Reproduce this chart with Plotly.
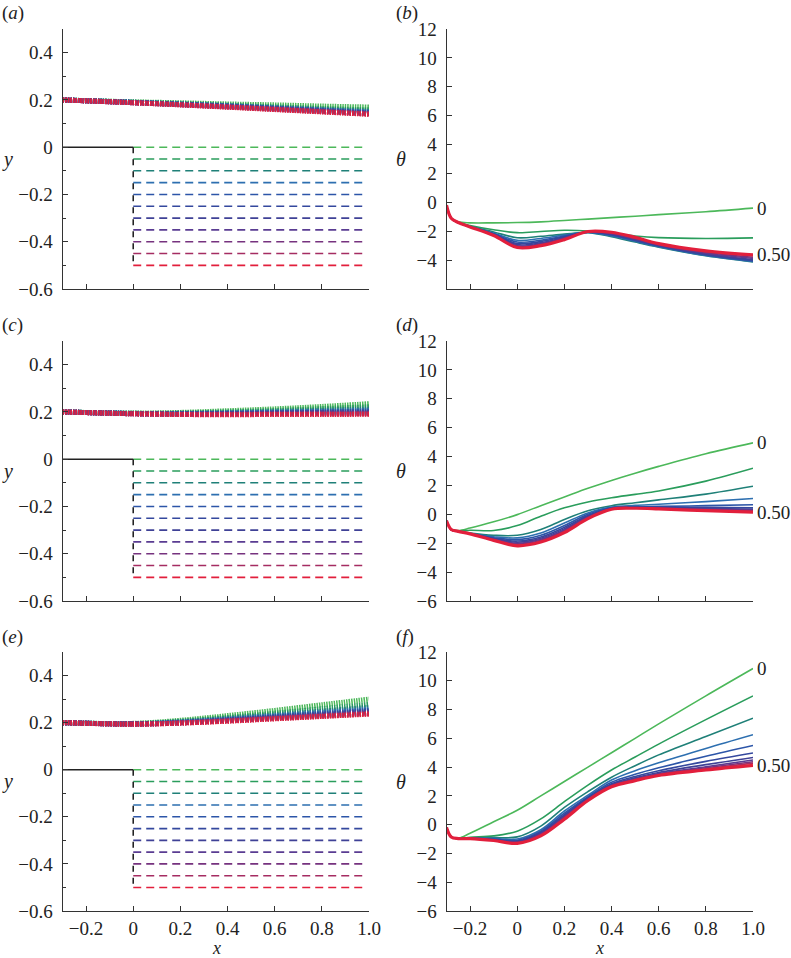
import plotly.graph_objects as go

# ---------------- data ----------------
params = ["0", "0.05", "0.10", "0.15", "0.20", "0.25", "0.30", "0.35", "0.40", "0.45", "0.50"]
colors = ["#4cb85a", "#2a9d5c", "#1f8078", "#2d6fb0", "#2c55a8", "#34489e", "#3f4196",
          "#5a3c92", "#76327f", "#a52c62", "#e21f3c"]

# dashed levels in the y panels
dash_levels = [0.0, -0.05, -0.10, -0.15, -0.20, -0.25, -0.30, -0.35, -0.40, -0.45, -0.50]
wall_x = [-0.3, 0.0]
wall_y = [0.0, 0.0]
dash_x = [0.0, 0.98]
step_x = [0.0, 0.0]
step_y = [0.0, -0.5]

# wavy free-surface curves (centre line), panels a, c, e
wave_x = [-0.3, 0.0, 0.2, 0.4, 0.6, 0.8, 1.0]
wave_a = [
    [0.200, 0.192, 0.188, 0.183, 0.179, 0.174, 0.170],
    [0.200, 0.191, 0.185, 0.178, 0.171, 0.164, 0.158],
    [0.200, 0.190, 0.183, 0.176, 0.168, 0.160, 0.152],
    [0.200, 0.190, 0.182, 0.175, 0.166, 0.158, 0.149],
    [0.200, 0.189, 0.182, 0.174, 0.165, 0.156, 0.147],
    [0.200, 0.189, 0.181, 0.173, 0.164, 0.155, 0.145],
    [0.200, 0.189, 0.181, 0.172, 0.163, 0.153, 0.143],
    [0.200, 0.188, 0.180, 0.171, 0.162, 0.152, 0.142],
    [0.200, 0.188, 0.180, 0.171, 0.161, 0.151, 0.141],
    [0.200, 0.188, 0.179, 0.170, 0.160, 0.150, 0.140],
    [0.200, 0.188, 0.179, 0.169, 0.159, 0.149, 0.139],
]
wave_c = [
    [0.200, 0.195, 0.198, 0.205, 0.213, 0.223, 0.235],
    [0.200, 0.194, 0.195, 0.200, 0.206, 0.214, 0.222],
    [0.200, 0.194, 0.194, 0.197, 0.202, 0.207, 0.213],
    [0.200, 0.193, 0.193, 0.195, 0.199, 0.203, 0.207],
    [0.200, 0.193, 0.192, 0.194, 0.197, 0.200, 0.203],
    [0.200, 0.193, 0.191, 0.193, 0.195, 0.198, 0.200],
    [0.200, 0.193, 0.191, 0.192, 0.194, 0.196, 0.197],
    [0.200, 0.192, 0.190, 0.191, 0.193, 0.194, 0.195],
    [0.200, 0.192, 0.190, 0.190, 0.191, 0.192, 0.193],
    [0.200, 0.192, 0.189, 0.189, 0.190, 0.191, 0.191],
    [0.200, 0.192, 0.189, 0.188, 0.189, 0.189, 0.190],
]
wave_e = [
    [0.200, 0.197, 0.210, 0.230, 0.252, 0.276, 0.300],
    [0.200, 0.196, 0.206, 0.222, 0.240, 0.259, 0.278],
    [0.200, 0.195, 0.204, 0.218, 0.233, 0.249, 0.265],
    [0.200, 0.195, 0.202, 0.215, 0.229, 0.243, 0.257],
    [0.200, 0.195, 0.201, 0.213, 0.226, 0.239, 0.252],
    [0.200, 0.194, 0.200, 0.211, 0.223, 0.236, 0.248],
    [0.200, 0.194, 0.200, 0.210, 0.221, 0.233, 0.245],
    [0.200, 0.194, 0.199, 0.209, 0.220, 0.231, 0.242],
    [0.200, 0.194, 0.199, 0.208, 0.219, 0.229, 0.240],
    [0.200, 0.194, 0.198, 0.207, 0.217, 0.227, 0.238],
    [0.200, 0.193, 0.198, 0.206, 0.216, 0.226, 0.236],
]

# theta curves, panels b, d, f
theta_x = [-0.3, -0.28, -0.25, -0.2, -0.1, 0.0, 0.1, 0.2, 0.3, 0.4, 0.5, 0.6, 0.8, 1.0]
theta_b = [
    [-0.2, -1.1, -1.35, -1.42, -1.42, -1.40, -1.35, -1.26, -1.16, -1.06, -0.96, -0.85, -0.65, -0.40],
    [-0.2, -1.1, -1.40, -1.60, -1.90, -2.10, -2.02, -1.93, -1.98, -2.15, -2.33, -2.44, -2.50, -2.46],
    [-0.2, -1.1, -1.40, -1.65, -2.05, -2.45, -2.35, -2.20, -2.10, -2.38, -2.75, -3.10, -3.70, -4.12],
    [-0.2, -1.1, -1.40, -1.67, -2.12, -2.63, -2.50, -2.27, -2.08, -2.33, -2.70, -3.07, -3.68, -4.10],
    [-0.2, -1.1, -1.40, -1.68, -2.17, -2.75, -2.62, -2.33, -2.07, -2.28, -2.66, -3.04, -3.65, -4.06],
    [-0.2, -1.1, -1.40, -1.69, -2.20, -2.85, -2.72, -2.38, -2.06, -2.24, -2.62, -3.01, -3.62, -4.02],
    [-0.2, -1.1, -1.40, -1.70, -2.23, -2.93, -2.80, -2.43, -2.05, -2.20, -2.58, -2.98, -3.58, -3.96],
    [-0.2, -1.1, -1.40, -1.70, -2.25, -3.00, -2.86, -2.47, -2.04, -2.17, -2.54, -2.95, -3.53, -3.88],
    [-0.2, -1.1, -1.40, -1.70, -2.27, -3.05, -2.92, -2.51, -2.03, -2.13, -2.50, -2.92, -3.47, -3.80],
    [-0.2, -1.1, -1.40, -1.70, -2.29, -3.10, -2.97, -2.55, -2.02, -2.10, -2.46, -2.89, -3.42, -3.71],
    [-0.2, -1.1, -1.40, -1.70, -2.30, -3.13, -3.00, -2.58, -2.02, -2.07, -2.42, -2.86, -3.36, -3.63],
]
theta_d = [
    [-0.45, -1.05, -1.12, -0.95, -0.52, -0.02, 0.60, 1.20, 1.80, 2.35, 2.85, 3.32, 4.20, 4.95],
    [-0.45, -1.05, -1.15, -1.10, -1.12, -0.78, -0.13, 0.45, 0.86, 1.15, 1.38, 1.62, 2.30, 3.19],
    [-0.45, -1.05, -1.18, -1.30, -1.45, -1.45, -1.05, -0.35, 0.25, 0.60, 0.80, 1.00, 1.40, 1.94],
    [-0.45, -1.05, -1.18, -1.32, -1.55, -1.63, -1.30, -0.60, 0.10, 0.50, 0.62, 0.70, 0.88, 1.10],
    [-0.45, -1.05, -1.18, -1.33, -1.62, -1.75, -1.45, -0.78, 0.00, 0.45, 0.52, 0.55, 0.60, 0.66],
    [-0.45, -1.05, -1.18, -1.33, -1.67, -1.85, -1.57, -0.90, -0.08, 0.42, 0.48, 0.50, 0.48, 0.45],
    [-0.45, -1.05, -1.18, -1.34, -1.70, -1.93, -1.66, -1.00, -0.14, 0.40, 0.46, 0.46, 0.41, 0.35],
    [-0.45, -1.05, -1.18, -1.34, -1.73, -2.00, -1.73, -1.08, -0.19, 0.38, 0.45, 0.44, 0.36, 0.30],
    [-0.45, -1.05, -1.18, -1.35, -1.76, -2.06, -1.80, -1.15, -0.23, 0.37, 0.44, 0.42, 0.32, 0.25],
    [-0.45, -1.05, -1.18, -1.35, -1.78, -2.12, -1.86, -1.21, -0.27, 0.36, 0.43, 0.40, 0.28, 0.20],
    [-0.45, -1.05, -1.18, -1.35, -1.80, -2.18, -1.92, -1.27, -0.30, 0.35, 0.42, 0.38, 0.25, 0.15],
]
theta_f = [
    [-0.2, -0.85, -0.95, -0.60, 0.20, 1.00, 2.00, 3.00, 4.00, 5.00, 6.00, 7.00, 8.95, 10.85],
    [-0.2, -0.85, -0.97, -0.88, -0.78, -0.45, 0.40, 1.60, 2.75, 3.80, 4.70, 5.60, 7.30, 8.95],
    [-0.2, -0.85, -0.97, -0.93, -0.90, -0.85, -0.10, 1.20, 2.30, 3.30, 4.10, 4.85, 6.13, 7.40],
    [-0.2, -0.85, -0.97, -0.94, -0.95, -1.00, -0.35, 0.95, 2.05, 3.10, 3.75, 4.30, 5.30, 6.25],
    [-0.2, -0.85, -0.97, -0.95, -1.00, -1.08, -0.45, 0.80, 1.95, 2.95, 3.50, 3.95, 4.75, 5.50],
    [-0.2, -0.85, -0.97, -0.95, -1.03, -1.14, -0.52, 0.70, 1.88, 2.85, 3.35, 3.75, 4.40, 4.98],
    [-0.2, -0.85, -0.97, -0.96, -1.05, -1.18, -0.58, 0.62, 1.82, 2.78, 3.25, 3.62, 4.17, 4.67],
    [-0.2, -0.85, -0.97, -0.96, -1.07, -1.22, -0.63, 0.55, 1.78, 2.73, 3.18, 3.55, 4.03, 4.49],
    [-0.2, -0.85, -0.97, -0.96, -1.08, -1.25, -0.68, 0.50, 1.75, 2.70, 3.14, 3.50, 3.95, 4.37],
    [-0.2, -0.85, -0.97, -0.97, -1.09, -1.28, -0.73, 0.45, 1.72, 2.67, 3.10, 3.47, 3.88, 4.28],
    [-0.2, -0.85, -0.97, -0.97, -1.10, -1.30, -0.78, 0.38, 1.68, 2.63, 3.06, 3.42, 3.80, 4.12],
]

x_ticks = [-0.2, 0.0, 0.2, 0.4, 0.6, 0.8, 1.0]
x_ticktext = ["\u22120.2", "0", "0.2", "0.4", "0.6", "0.8", "1.0"]
y_ticks = [-0.6, -0.4, -0.2, 0.0, 0.2, 0.4]
y_ticktext = ["\u22120.6", "\u22120.4", "\u22120.2", "0", "0.2", "0.4"]
y_minor = [-0.5, -0.3, -0.1, 0.1, 0.3, 0.5]
t_ticks = [-6, -4, -2, 0, 2, 4, 6, 8, 10, 12]
t_ticktext = ["\u22126", "\u22124", "\u22122", "0", "2", "4", "6", "8", "10", "12"]

# ---------------- figure ----------------
W, H = 791, 958
FONT = "Liberation Serif"
fig = go.Figure()

left_dom = [62.5 / W, 369 / W]
right_dom = [446.5 / W, 753 / W]
rows_px = [(29, 289), (341, 601), (652, 911)]
waves = [wave_a, wave_c, wave_e]
thetas = [theta_b, theta_d, theta_f]

axis_common = dict(showline=True, linecolor="#333", linewidth=1, ticks="inside", ticklen=5,
                   tickcolor="#333", tickwidth=1, showgrid=False, zeroline=False,
                   automargin=False,
                   tickfont=dict(family=FONT, size=19, color="#222"), fixedrange=True)

layout_axes = {}
for r in range(3):
    t, b = rows_px[r]
    ydom = [1 - b / H, 1 - t / H]
    li = 2 * r + 1
    ri = 2 * r + 2
    for idx, dom in ((li, left_dom), (ri, right_dom)):
        xname = "xaxis" if idx == 1 else f"xaxis{idx}"
        yname = "yaxis" if idx == 1 else f"yaxis{idx}"
        yref = "y" if idx == 1 else f"y{idx}"
        xref = "x" if idx == 1 else f"x{idx}"
        layout_axes[xname] = dict(axis_common, domain=dom, anchor=yref, range=[-0.3, 1.0],
                                  tickmode="array", tickvals=x_ticks, ticktext=x_ticktext,
                                  showticklabels=(r == 2), ticklabelstandoff=0)
        if idx == li:
            layout_axes[yname] = dict(axis_common, domain=ydom, anchor=xref, range=[-0.6, 0.5],
                                      tickmode="array", tickvals=y_ticks, ticktext=y_ticktext,
                                      ticklabelstandoff=5,
                                      minor=dict(tickmode="array", tickvals=y_minor, ticks="inside",
                                                 ticklen=3, tickcolor="#333", showgrid=False))
        else:
            tt = list(t_ticktext)
            if r == 0:
                tt[0] = ""
            layout_axes[yname] = dict(axis_common, domain=ydom, anchor=xref, range=[-6, 12],
                                      tickmode="array", tickvals=t_ticks, ticktext=tt,
                                      ticklabelstandoff=5)

    # left panel traces
    xl = "x" if li == 1 else f"x{li}"
    yl = "y" if li == 1 else f"y{li}"
    fig.add_trace(go.Scatter(x=wall_x, y=wall_y, mode="lines", xaxis=xl, yaxis=yl,
                             line=dict(color="#222", width=1.6), hoverinfo="skip"))
    for k, lev in enumerate(dash_levels):
        fig.add_trace(go.Scatter(x=dash_x, y=[lev, lev], mode="lines", xaxis=xl, yaxis=yl,
                                 line=dict(color=colors[k], width=1.6, dash="8px,5px"),
                                 hoverinfo="skip"))
    fig.add_trace(go.Scatter(x=step_x, y=step_y, mode="lines", xaxis=xl, yaxis=yl,
                             line=dict(color="#222", width=1.6, dash="6px,6px"), hoverinfo="skip"))
    for k, vals in enumerate(waves[r]):
        fig.add_trace(go.Scatter(x=wave_x, y=vals, mode="lines", xaxis=xl, yaxis=yl,
                                 line=dict(color=colors[k], width=5, shape="spline",
                                           dash="1.5px,1px"), hoverinfo="skip"))

    # right panel traces
    xr = f"x{ri}"
    yr = f"y{ri}"
    for k, vals in enumerate(thetas[r]):
        fig.add_trace(go.Scatter(x=theta_x, y=vals, mode="lines", xaxis=xr, yaxis=yr,
                                 line=dict(color=colors[k], width=3.2 if k == 10 else 1.6,
                                           shape="spline"), hoverinfo="skip"))
    # end labels
    for k, txt in ((0, "0"), (10, "0.50")):
        fig.add_annotation(x=theta_x[-1], y=thetas[r][k][-1], xref=xr, yref=yr, text=txt,
                           showarrow=False, xanchor="left", yanchor="middle", xshift=2,
                           font=dict(family=FONT, size=19, color="#222"))

annos = []
letters = ["a", "b", "c", "d", "e", "f"]
label_y = [13, 325, 637]
for r in range(3):
    t, b = rows_px[r]
    cy = 1 - (t + b) / 2 / H
    annos.append(dict(x=7 / W, y=cy, xref="paper", yref="paper", text="<i>y</i>",
                      showarrow=False, xanchor="center", yanchor="middle",
                      font=dict(family=FONT, size=20, color="#222")))
    annos.append(dict(x=401 / W, y=cy, xref="paper", yref="paper", text="<i>θ</i>",
                      showarrow=False, xanchor="center", yanchor="middle",
                      font=dict(family=FONT, size=20, color="#222")))
    annos.append(dict(x=0, y=1 - label_y[r] / H, xref="paper", yref="paper",
                      text=f"(<i>{letters[2*r]}</i>)", showarrow=False, xanchor="left",
                      yanchor="middle", font=dict(family=FONT, size=19, color="#222")))
    annos.append(dict(x=394 / W, y=1 - label_y[r] / H, xref="paper", yref="paper",
                      text=f"(<i>{letters[2*r+1]}</i>)", showarrow=False, xanchor="left",
                      yanchor="middle", font=dict(family=FONT, size=19, color="#222")))
for cx in (216, 599):
    annos.append(dict(x=cx / W, y=1 - 948 / H, xref="paper", yref="paper", text="<i>x</i>",
                      showarrow=False, xanchor="center", yanchor="middle", borderpad=0,
                      font=dict(family=FONT, size=18, color="#222")))

fig.update_layout(width=W, height=H, margin=dict(l=0, r=0, t=0, b=0, autoexpand=False),
                  paper_bgcolor="white", plot_bgcolor="white", showlegend=False,
                  **layout_axes)
for a in annos:
    fig.add_annotation(**a)

fig.write_html("out.html", config={"displayModeBar": False, "staticPlot": True},
               post_script="document.body.style.margin='0';document.body.style.padding='0';"
                           "var d=document.getElementById('{plot_id}');"
                           "d.style.position='fixed';d.style.left='0px';d.style.top='0px';"
                           "document.documentElement.style.overflow='hidden';")
